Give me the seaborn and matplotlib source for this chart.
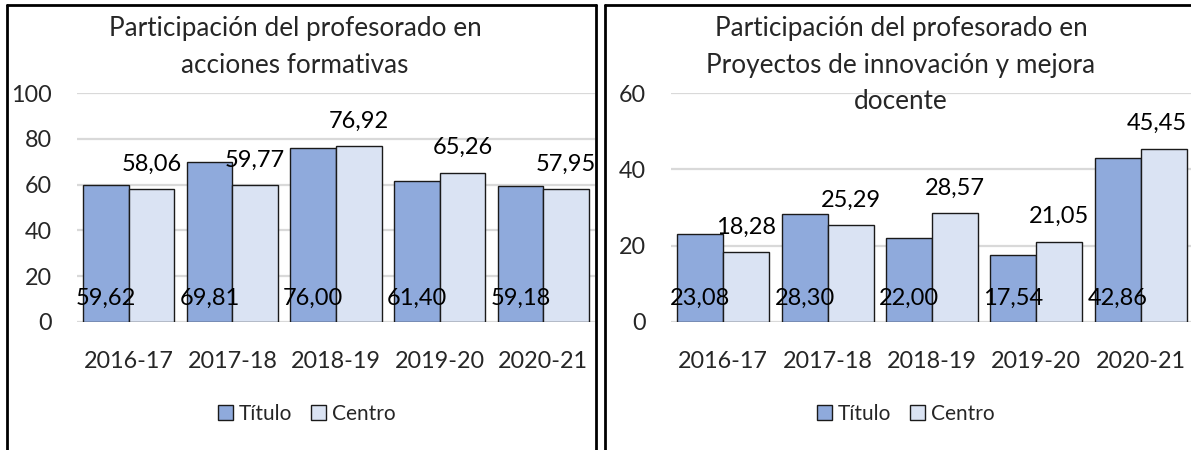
import matplotlib
matplotlib.use("Agg")
import matplotlib.pyplot as plt
from matplotlib.lines import Line2D
from matplotlib.patches import Patch
import seaborn as sns
import pandas as pd

# ---- data ----
cursos = ["2016-17", "2017-18", "2018-19", "2019-20", "2020-21"]
series = ["Título", "Centro"]
formativas_titulo = [59.62, 69.81, 76.00, 61.40, 59.18]
formativas_centro = [58.06, 59.77, 76.92, 65.26, 57.95]
proyectos_titulo = [23.08, 28.30, 22.00, 17.54, 42.86]
proyectos_centro = [18.28, 25.29, 28.57, 21.05, 45.45]
title_left = "Participación del profesorado en\nacciones formativas"
title_right = "Participación del profesorado en\nProyectos de innovación y mejora\ndocente"
yticks_left = [0, 20, 40, 60, 80, 100]
yticks_right = [0, 20, 40, 60]

COL_T = "#8FAADC"
COL_C = "#DAE3F3"
GRID = "#D9D9D9"
FONT = "Lato"

sns.set_theme(style="white")
plt.rcParams["font.family"] = [FONT, "DejaVu Sans"]

W, H = 1191, 450
fig = plt.figure(figsize=(W / 100, H / 100), dpi=100)


def fx(px):
    return px / W


def fy(py):
    return 1 - py / H


def make_df(t, c):
    return pd.DataFrame({
        "Curso": cursos * 2,
        "Serie": [series[0]] * len(cursos) + [series[1]] * len(cursos),
        "Valor": list(t) + list(c),
    })


def fmt(v):
    return f"{v:.2f}".replace(".", ",")


labels = []


def draw(ax, df, ymax, yticks):
    sns.barplot(data=df, x="Curso", y="Valor", hue="Serie", hue_order=series,
                palette=[COL_T, COL_C], edgecolor="#1a1a1a", linewidth=1.0,
                width=0.88, gap=0, ax=ax, legend=False, errorbar=None,
                saturation=1)
    ax.set_ylim(0, ymax)
    ax.set_xlim(-0.5, len(cursos) - 0.5)
    ax.set_yticks(yticks)
    ax.set_yticklabels([str(v) for v in yticks])
    ax.set_xlabel("")
    ax.set_ylabel("")
    for s in ax.spines.values():
        s.set_visible(False)
    ax.set_axisbelow(True)
    ax.yaxis.grid(True, color=GRID, linewidth=1.6)
    ax.tick_params(axis="y", length=0, pad=18, labelsize=16.8)
    ax.tick_params(axis="x", length=0, pad=21, labelsize=16.8)
    ax.set_facecolor("none")
    # data labels
    cont_t, cont_c = ax.containers[0], ax.containers[1]
    for p in cont_t:
        xc = p.get_x() + p.get_width() / 2
        labels.append(ax.annotate(fmt(p.get_height()), (xc, 0), xytext=(0, 17),
                                  textcoords="offset points", ha="center", va="center",
                                  fontsize=17, color="black"))
    for p in cont_c:
        xc = p.get_x() + p.get_width() / 2
        labels.append(ax.annotate(fmt(p.get_height()), (xc, p.get_height()), xytext=(0, 18),
                                  textcoords="offset points", ha="center", va="center",
                                  fontsize=17, color="black", annotation_clip=False))


ax1 = fig.add_axes([fx(77), fy(322), fx(595 - 77), (322 - 93) / H])
draw(ax1, make_df(formativas_titulo, formativas_centro), 100, yticks_left)

ax2 = fig.add_axes([fx(671), fy(322), fx(1193 - 671), (322 - 93) / H])
draw(ax2, make_df(proyectos_titulo, proyectos_centro), 60, yticks_right)

# titles
fig.text(fx(295), fy(16), title_left, ha="center", va="top", fontsize=18.8,
         linespacing=1.58)
fig.text(fx(901), fy(16), title_right, ha="center", va="top", fontsize=18.8,
         linespacing=1.58)

# legends
handles = [Patch(facecolor=COL_T, edgecolor="#1a1a1a", linewidth=1.0, label=series[0]),
           Patch(facecolor=COL_C, edgecolor="#1a1a1a", linewidth=1.0, label=series[1])]
for cx in (307, 906):
    fig.legend(handles=handles, loc="center", bbox_to_anchor=(fx(cx), fy(414)),
               ncol=2, frameon=False, fontsize=15, handlelength=0.7,
               handleheight=0.7, handletextpad=0.3, columnspacing=0.9,
               borderaxespad=0, borderpad=0)

# keep data labels inside the picture (as the reference does)
fig.canvas.draw()
renderer = fig.canvas.get_renderer()
for t in labels:
    bb = t.get_window_extent(renderer)
    if bb.x1 > W - 4:
        dx = (bb.x1 - (W - 4)) * 0.72
        ox, oy = t.xyann
        t.xyann = (ox - dx, oy)

# panel borders
lw = 2.0
fig.add_artist(Line2D([fx(7), fx(7)], [fy(5), 0], color="black", lw=lw))
fig.add_artist(Line2D([fx(7), fx(596)], [fy(5), fy(5)], color="black", lw=lw))
fig.add_artist(Line2D([fx(596), fx(596)], [fy(5), 0], color="black", lw=lw))
fig.add_artist(Line2D([fx(605), fx(605)], [fy(5), 0], color="black", lw=lw))
fig.add_artist(Line2D([fx(605), 1], [fy(5), fy(5)], color="black", lw=lw))

fig.savefig("out.png", dpi=100, facecolor="white")
